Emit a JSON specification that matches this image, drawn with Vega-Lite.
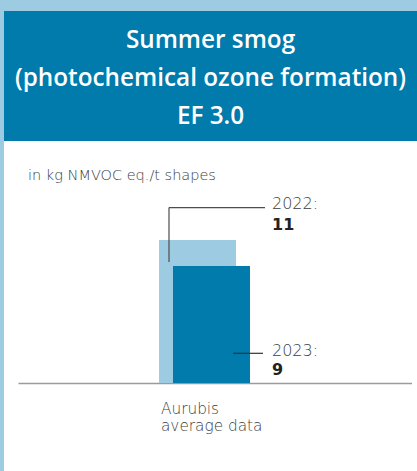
{
  "$schema": "https://vega.github.io/schema/vega-lite/v6.json",
  "background": "#9dcbe2",
  "padding": {"left": 4, "top": 11, "right": 0, "bottom": 0},
  "spacing": 0,
  "config": {"view": {"stroke": null}, "font": "DejaVu Sans", "concat": {"spacing": 0}},
  "datasets": {
    "emissions": [
      {"category": "Aurubis average data", "year": "2022", "value": 11},
      {"category": "Aurubis average data", "year": "2023", "value": 9}
    ]
  },
  "vconcat": [
    {
      "width": 413,
      "height": 130,
      "view": {"fill": "#007bac", "stroke": null},
      "data": {"values": [
        {"line": 1, "heading": "Summer smog"},
        {"line": 2, "heading": "(photochemical ozone formation)"},
        {"line": 3, "heading": "EF 3.0"}
      ]},
      "mark": {"type": "text", "color": "white", "font": "Open Sans", "fontSize": 24.3, "fontWeight": 600, "baseline": "middle", "align": "center"},
      "encoding": {
        "y": {"field": "line", "type": "ordinal", "scale": {"type": "band", "paddingInner": 0, "paddingOuter": 0.21, "align": 0.67}, "axis": null},
        "text": {"field": "heading", "type": "nominal"}
      }
    },
    {
      "spacing": 0,
      "hconcat": [
        {
          "width": 14, "height": 330,
          "view": {"fill": "white", "stroke": null},
          "data": {"values": [{}]},
          "mark": {"type": "text"},
          "encoding": {"text": {"value": ""}}
        },
        {
          "width": 394, "height": 330,
          "view": {"fill": "white", "stroke": null},
          "title": {"text": "in kg NMVOC eq./t shapes", "anchor": "start", "orient": "top", "offset": -53, "fontSize": 14.5, "fontWeight": 300, "color": "#3d3d3d", "dx": 10, "baseline": "alphabetic"},
          "data": {"name": "emissions"},
          "layer": [
            {
              "mark": {"type": "bar", "width": 77},
              "encoding": {
                "x": {"field": "category", "type": "nominal",
                  "scale": {"paddingInner": 0.84699, "paddingOuter": 1, "align": 0.4713},
                  "axis": {"title": null, "offset": -88, "domainColor": "#9a9a9a", "domainWidth": 1.5, "ticks": false, "labelAlign": "left", "labelBaseline": "top", "labelOffset": -43.5, "labelPadding": 18, "labelFontSize": 15.3, "labelFontWeight": 300, "labelColor": "#3d3d3d", "labelLineHeight": 17, "labelAngle": 0, "labelExpr": "['Aurubis', 'average data']"}},
                "xOffset": {"field": "year", "type": "nominal", "scale": {"paddingInner": 0, "paddingOuter": 0}},
                "y": {"field": "value", "type": "quantitative", "scale": {"domain": [-6.77, 18.62], "nice": false, "zero": false}, "axis": null},
                "color": {"field": "year", "type": "nominal", "scale": {"domain": ["2022", "2023"], "range": ["#9dcbe2", "#007bac"]}, "legend": null}
              }
            },
            {
              "transform": [{"filter": "datum.year == '2022'"}],
              "mark": {"type": "rule", "color": "#4d4d4d", "strokeWidth": 1.2, "xOffset": -35.5},
              "encoding": {
                "x": {"field": "category", "type": "nominal"},
                "y": {"datum": 13.5, "type": "quantitative", "scale": {"domain": [-6.77, 18.62], "nice": false, "zero": false}},
                "y2": {"datum": 9.31}
              }
            },
            {
              "transform": [{"filter": "datum.year == '2022'"}],
              "mark": {"type": "rule", "color": "#4d4d4d", "strokeWidth": 1.2, "xOffset": -35.5, "x2Offset": 60.5},
              "encoding": {
                "x": {"field": "category", "type": "nominal"},
                "x2": {"field": "category"},
                "y": {"datum": 13.5, "type": "quantitative", "scale": {"domain": [-6.77, 18.62], "nice": false, "zero": false}}
              }
            },
            {
              "transform": [{"filter": "datum.year == '2023'"}],
              "mark": {"type": "rule", "color": "#333333", "strokeWidth": 1.2, "xOffset": 28.5, "x2Offset": 58.5},
              "encoding": {
                "x": {"field": "category", "type": "nominal"},
                "x2": {"field": "category"},
                "y": {"datum": 2.285, "type": "quantitative", "scale": {"domain": [-6.77, 18.62], "nice": false, "zero": false}}
              }
            },
            {
              "transform": [{"filter": "datum.year == '2022'"}],
              "mark": {"type": "text", "align": "left", "baseline": "alphabetic", "dx": 67.5, "fontSize": 16, "fontWeight": 300, "color": "#3d3d3d"},
              "encoding": {
                "x": {"field": "category", "type": "nominal"},
                "y": {"datum": 13.385, "type": "quantitative", "scale": {"domain": [-6.77, 18.62], "nice": false, "zero": false}},
                "text": {"value": "2022:"}
              }
            },
            {
              "transform": [{"filter": "datum.year == '2022'"}],
              "mark": {"type": "text", "align": "left", "baseline": "alphabetic", "dx": 67.5, "fontSize": 16, "fontWeight": "bold", "color": "#222222"},
              "encoding": {
                "x": {"field": "category", "type": "nominal"},
                "y": {"datum": 11.769, "type": "quantitative", "scale": {"domain": [-6.77, 18.62], "nice": false, "zero": false}},
                "text": {"field": "value", "type": "quantitative"}
              }
            },
            {
              "transform": [{"filter": "datum.year == '2023'"}],
              "mark": {"type": "text", "align": "left", "baseline": "alphabetic", "dx": 67.5, "fontSize": 16, "fontWeight": 300, "color": "#3d3d3d"},
              "encoding": {
                "x": {"field": "category", "type": "nominal"},
                "y": {"datum": 2.077, "type": "quantitative", "scale": {"domain": [-6.77, 18.62], "nice": false, "zero": false}},
                "text": {"value": "2023:"}
              }
            },
            {
              "transform": [{"filter": "datum.year == '2023'"}],
              "mark": {"type": "text", "align": "left", "baseline": "alphabetic", "dx": 67.5, "fontSize": 16, "fontWeight": "bold", "color": "#222222"},
              "encoding": {
                "x": {"field": "category", "type": "nominal"},
                "y": {"datum": 0.615, "type": "quantitative", "scale": {"domain": [-6.77, 18.62], "nice": false, "zero": false}},
                "text": {"field": "value", "type": "quantitative"}
              }
            }
          ]
        },
        {
          "width": 5, "height": 330,
          "view": {"fill": "white", "stroke": null},
          "data": {"values": [{}]},
          "mark": {"type": "text"},
          "encoding": {"text": {"value": ""}}
        }
      ]
    }
  ]
}
